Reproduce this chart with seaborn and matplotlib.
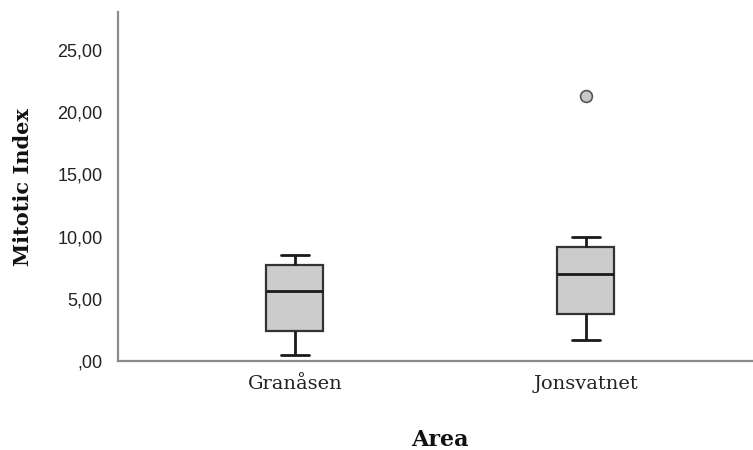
import matplotlib
matplotlib.use("Agg")
import matplotlib.pyplot as plt
import seaborn as sns
import pandas as pd

# Mitotic index observations per sampling area
areas = ["Granåsen", "Jonsvatnet"]
granasen_values = [0.48, 1.5, 2.42, 4.0, 5.59, 6.8, 7.74, 8.2, 8.55]
jonsvatnet_values = [1.69, 2.5, 3.76, 5.2, 6.99, 8.0, 9.14, 9.95, 21.3]
y_ticks = [0, 5, 10, 15, 20, 25]
y_tick_labels = [",00", "5,00", "10,00", "15,00", "20,00", "25,00"]

df = pd.DataFrame({
    "Area": [areas[0]] * len(granasen_values) + [areas[1]] * len(jonsvatnet_values),
    "Mitotic Index": granasen_values + jonsvatnet_values,
})

sns.set_theme(style="white")
plt.rcParams["font.family"] = ["DejaVu Sans"]

fig = plt.figure(figsize=(7.53, 4.5), dpi=100)
ax = fig.add_axes([118 / 753, 1 - 361 / 450, 635 / 753, 349 / 450])

line_color = "#1a1a1a"
sns.boxplot(
    data=df, x="Area", y="Mitotic Index", order=areas, ax=ax,
    width=0.196, color="#cccccc", linewidth=2.0, whis=1.5,
    boxprops=dict(facecolor="#cccccc", edgecolor="#333333", linewidth=1.6),
    medianprops=dict(color=line_color, linewidth=2.0),
    whiskerprops=dict(color=line_color, linewidth=2.0),
    capprops=dict(color=line_color, linewidth=2.0),
    flierprops=dict(marker="o", markersize=8.5, markerfacecolor="#c8c8c8",
                    markeredgecolor="#555555", markeredgewidth=1.2),
)

ax.set_xlim(-0.608, 1.574)
ax.set_ylim(0, 28.05)
ax.set_yticks(y_ticks)
ax.set_yticklabels(y_tick_labels, fontsize=13, family="Liberation Sans", color="#222222")
ax.tick_params(axis="both", length=0)
ax.tick_params(axis="y", pad=11)
ax.tick_params(axis="x", pad=10)
for lbl in ax.get_xticklabels():
    lbl.set_fontfamily("DejaVu Serif")
    lbl.set_fontsize(14)
    lbl.set_color("#222222")

for side in ["top", "right"]:
    ax.spines[side].set_visible(False)
for side in ["left", "bottom"]:
    ax.spines[side].set_color("#8c8c8c")
    ax.spines[side].set_linewidth(1.6)

ax.set_xlabel("Area", fontsize=16, fontweight="bold", family="DejaVu Serif", color="#111111")
ax.xaxis.set_label_coords((440 - 118) / 635, -(440 - 361) / 349)
ax.xaxis.label.set_va("center")

ax.set_ylabel("Mitotic Index", fontsize=15, fontweight="bold", family="DejaVu Serif", color="#111111")
ax.yaxis.set_label_coords((23 - 118) / 635, (361 - 187) / 349)
ax.yaxis.label.set_rotation_mode("anchor")
ax.yaxis.label.set_va("center")
ax.yaxis.label.set_ha("center")

fig.savefig("out.png", dpi=100)
